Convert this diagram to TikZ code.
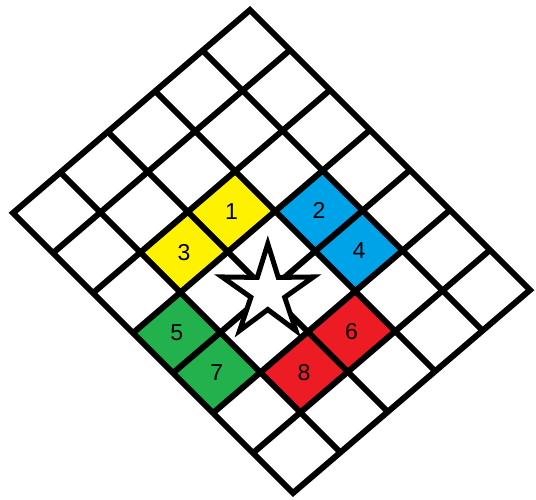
\documentclass[tikz,border=0pt]{standalone}
\usepackage{fontspec}
\setmainfont{Liberation Sans}
\usetikzlibrary{shapes.geometric}
\definecolor{PaintYellow}{HTML}{FFF200}
\definecolor{PaintBlue}{HTML}{00A2E8}
\definecolor{PaintGreen}{HTML}{22B14C}
\definecolor{PaintRed}{HTML}{ED1C24}
% grid point (i,j) of the tilted board
\newcommand\gp[2]{({250+40*(#1)-47.4*(#2)},{10+40*(#1)+40.6*(#2)})}
\newcommand\paintcell[3]{\fill[#3] \gp{#1}{#2} -- \gp{#1+1}{#2} -- \gp{#1+1}{#2+1} -- \gp{#1}{#2+1} -- cycle;}

\begin{document}
\begin{tikzpicture}[x=1pt, y=-1pt,
    grid/.style={line width=6pt, draw=black},
    cellnum/.style={font=\fontsize{23}{27}\selectfont, inner sep=0pt},
    knight/.style={star, star points=5, star point ratio=2.7, minimum size=96pt, inner sep=0pt, draw=black, fill=white, line width=5pt}
]
\useasboundingbox (0,0) rectangle (536,500);
\paintcell{2}{2}{PaintYellow}
\paintcell{2}{3}{PaintYellow}
\paintcell{3}{1}{PaintBlue}
\paintcell{4}{1}{PaintBlue}
\paintcell{3}{4}{PaintGreen}
\paintcell{4}{4}{PaintGreen}
\paintcell{5}{2}{PaintRed}
\paintcell{5}{3}{PaintRed}
\foreach \j in {1,...,4}
    \draw[grid] \gp{0}{\j} -- \gp{7}{\j};
\foreach \i in {1,...,6}
    \draw[grid] \gp{\i}{0} -- \gp{\i}{5};
\draw[grid] \gp{0}{0} -- \gp{7}{0} -- \gp{7}{5} -- \gp{0}{5} -- cycle;
\node[knight] (star) at \gp{4}{3} {};
\node[cellnum] (n1) at \gp{2.5}{2.5} {1};
\node[cellnum] (n2) at \gp{3.5}{1.5} {2};
\node[cellnum] (n3) at \gp{2.5}{3.5} {3};
\node[cellnum] (n4) at \gp{4.5}{1.5} {4};
\node[cellnum] (n5) at \gp{3.5}{4.5} {5};
\node[cellnum] (n6) at \gp{5.5}{2.5} {6};
\node[cellnum] (n7) at \gp{4.5}{4.5} {7};
\node[cellnum] (n8) at \gp{5.5}{3.5} {8};
\end{tikzpicture}
\end{document}
